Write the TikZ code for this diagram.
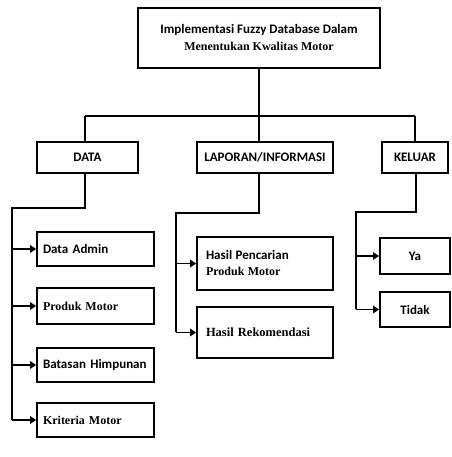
\documentclass[tikz,border=0pt]{standalone}
\usepackage{fontspec}
\setmainfont{Liberation Serif}
\newfontfamily\calfont{Carlito}
\usetikzlibrary{arrows.meta}
\begin{document}
\begin{tikzpicture}[x=1pt,y=1pt,
  box/.style={draw, line width=1.8pt, minimum height=#1, inner sep=0pt},
  box/.default=34pt,
  lbl/.style={font=\calfont\bfseries\fontsize{13}{15}\selectfont},
  lbls/.style={font=\bfseries\fontsize{12}{14}\selectfont},
  wire/.style={line width=1.7pt},
  arr/.style={wire, -{Triangle[length=6pt,width=7.5pt]}}]
\useasboundingbox (0,0) rectangle (451,457);

% root
\node[box=60pt, minimum width=242pt, align=center] (root) at (259,419)
  {{\calfont\bfseries\fontsize{13}{15}\selectfont Implementasi Fuzzy Database Dalam}\\[5pt]
   {\bfseries\fontsize{12}{14}\selectfont Menentukan Kwalitas Motor}};

% second level
\node[box=31pt, minimum width=101pt, lbl] (data) at (87.5,299.5) {DATA};
\node[box=31pt, minimum width=136pt, lbl] (lap) at (265,299.5) {LAPORAN/INFORMASI};
\node[box=31pt, minimum width=66pt, lbl] (kel) at (415,299.5) {KELUAR};

\coordinate (bus) at (259,341);
\draw[wire] (root.south) -- (bus);
\draw[wire] (85,341) -- (415,341);
\draw[wire] (85,341) -- (85,299.5 |- data.north);
\draw[wire] (bus) -- (259,299.5 |- lap.north);
\draw[wire] (415,341) -- (415,299.5 |- kel.north);

% DATA children
\node[box=34pt, minimum width=117pt, text width=105pt, lbl] (c1) at (95.5,208) {Data Admin};
\node[box=36pt, minimum width=117pt, text width=105pt, lbls] (c2) at (95.5,151) {Produk Motor};
\node[box=34pt, minimum width=117pt, text width=105pt, lbl] (c3) at (95.5,92) {Batasan Himpunan};
\node[box=34pt, minimum width=117pt, text width=105pt, lbls] (c4) at (95.5,37) {Kriteria Motor};

\coordinate (d1) at (85,249);
\coordinate (d2) at (12,249);
\coordinate (d3) at (12,37);
\draw[wire] (85,0 |- data.south) -- (d1) -- (d2) -- (d3);
\draw[arr] (d3) -- (c4.west);
\draw[arr] (d2 |- c1.west) -- (c1.west);
\draw[arr] (d2 |- c2.west) -- (c2.west);
\draw[arr] (d2 |- c3.west) -- (c3.west);

% LAPORAN children
\node[box=53pt, minimum width=136pt, text width=118pt, align=left] (l1) at (265,193.5)
  {{\calfont\bfseries\fontsize{13}{15}\selectfont Hasil Pencarian}\\[4pt]
   {\bfseries\fontsize{12}{14}\selectfont Produk Motor}};
\node[box=51pt, minimum width=136pt, text width=118pt, font=\bfseries\fontsize{12.5}{14}\selectfont] (l2) at (265,124.5) {Hasil Rekomendasi};

\coordinate (e1) at (259,244);
\coordinate (e2) at (176,244);
\coordinate (e3) at (176,124.5);
\draw[wire] (259,0 |- lap.south) -- (e1) -- (e2) -- (e3);
\draw[arr] (e3) -- (l2.west);
\draw[arr] (e2 |- l1.west) -- (l1.west);

% KELUAR children
\node[box=36pt, minimum width=70pt, lbl] (k1) at (415,201) {Ya};
\node[box=35pt, minimum width=70pt, lbl] (k2) at (415,147.5) {Tidak};

\coordinate (f1) at (416,245);
\coordinate (f2) at (356,245);
\coordinate (f3) at (356,147.5);
\draw[wire] (416,0 |- kel.south) -- (f1) -- (f2) -- (f3);
\draw[arr] (f3) -- (k2.west);
\draw[arr] (f2 |- k1.west) -- (k1.west);
\end{tikzpicture}
\end{document}
